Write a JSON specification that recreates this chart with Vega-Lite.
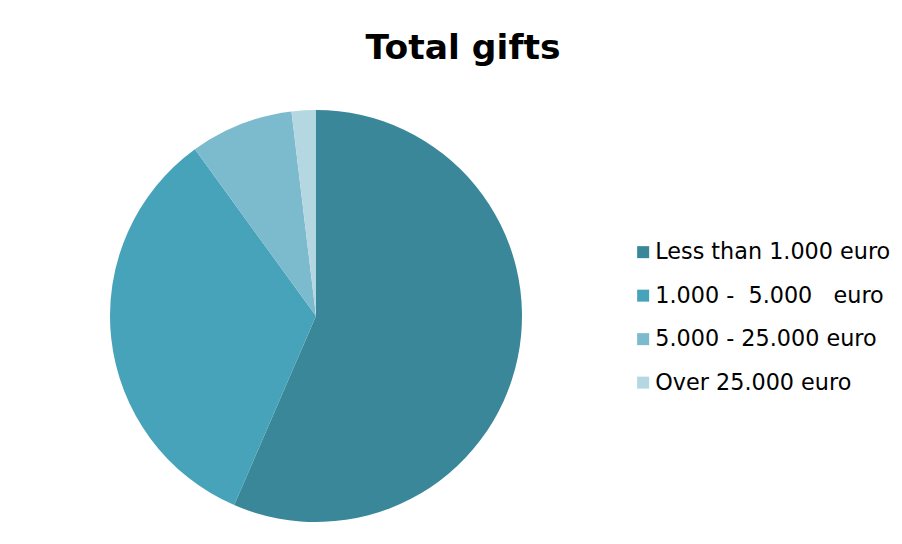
{
  "$schema": "https://vega.github.io/schema/vega-lite/v6.json",
  "width": 412,
  "height": 412,
  "autosize": {"type": "none"},
  "padding": {"left": 110, "top": 110, "right": 380, "bottom": 22},
  "background": "white",
  "title": {
    "text": "Total gifts",
    "font": "DejaVu Sans",
    "fontSize": 34.5,
    "fontWeight": "bold",
    "color": "#000000",
    "anchor": "middle",
    "frame": "group",
    "dx": 147,
    "baseline": "alphabetic",
    "offset": 17
  },
  "data": {
    "values": [
      {"category": "Less than 1.000 euro", "share": 56.5, "rank": 1},
      {"category": "1.000 -\u00a0 5.000\u00a0\u00a0 euro", "share": 33.5, "rank": 2},
      {"category": "5.000 - 25.000 euro", "share": 8.1, "rank": 3},
      {"category": "Over 25.000 euro", "share": 1.9, "rank": 4}
    ]
  },
  "mark": {"type": "arc", "outerRadius": 206},
  "encoding": {
    "theta": {"field": "share", "type": "quantitative", "stack": true},
    "order": {"field": "rank", "type": "quantitative"},
    "color": {
      "field": "category",
      "type": "nominal",
      "sort": null,
      "scale": {
        "domain": ["Less than 1.000 euro", "1.000 -\u00a0 5.000\u00a0\u00a0 euro", "5.000 - 25.000 euro", "Over 25.000 euro"],
        "range": ["#3A8799", "#47A3B9", "#7CBACD", "#B5D7E2"]
      },
      "legend": {
        "title": null,
        "orient": "none",
        "legendX": 522,
        "legendY": 131,
        "padding": 0,
        "symbolType": "square",
        "symbolSize": 144,
        "symbolStrokeWidth": 0,
        "symbolOpacity": 1,
        "labelFont": "DejaVu Sans",
        "labelFontSize": 22.3,
        "labelColor": "#000000",
        "labelOffset": 1,
        "labelLimit": 400,
        "rowPadding": 20.5
      }
    }
  }
}
